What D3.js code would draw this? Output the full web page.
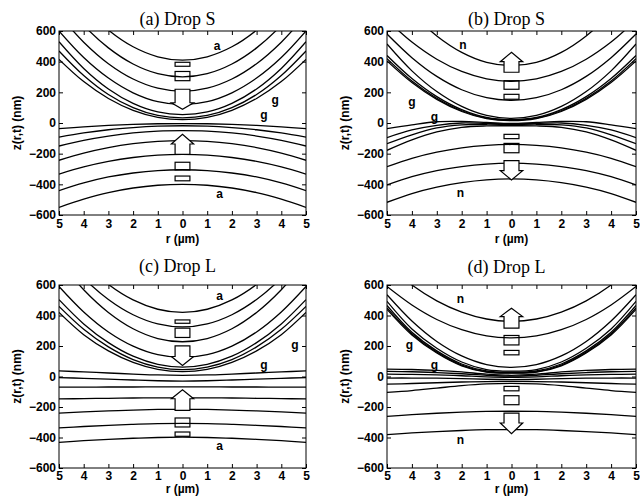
<!DOCTYPE html>
<html>
<head>
<meta charset="utf-8">
<script src="https://cdn.jsdelivr.net/npm/d3@7"></script>
<style>
  body { margin: 0; background: #fff; }
  svg { display: block; }
</style>
</head>
<body>
<svg id="fig" width="640" height="496"></svg>
<script>
// Film profiles z(r,t) in nm, sampled at r = 0..5 µm (profiles are symmetric in r).
const rSamples = [0, 1, 2, 3, 4, 5];
const rTicks = [-5, -4, -3, -2, -1, 0, 1, 2, 3, 4, 5];
const zTicks = [-600, -400, -200, 0, 200, 400, 600];

// (a) Drop S, approach
const upperA = [
  [410, 432, 497, 606, 759, 955],
  [301, 322, 385, 490, 637, 826],
  [207, 227, 287, 387, 527, 707],
  [120, 139, 197, 293, 427, 600],
  [55, 72, 128, 222, 356, 530],
  [33, 49, 100, 186, 310, 470],
  [22, 37, 83, 160, 270, 415]
];
const lowerA = [
  [-4, -5, -9, -16, -25, -37],
  [-18, -21, -30, -44, -65, -92],
  [-50, -53, -65, -85, -113, -150],
  [-115, -120, -135, -160, -196, -243],
  [-205, -210, -225, -250, -286, -333],
  [-305, -310, -326, -352, -391, -441],
  [-400, -406, -424, -454, -497, -550]
];

// (b) Drop S, separation
const upperB = [
  [375, 396, 461, 568, 718, 910],
  [272, 288, 336, 416, 528, 672],
  [148, 165, 217, 304, 426, 580],
  [30, 49, 108, 205, 340, 515],
  [22, 36, 87, 172, 290, 440],
  [18, 32, 80, 161, 274, 420],
  [15, 28, 75, 154, 264, 405]
];
const lowerB = [
  [-3, 4, 10, 8, -12, -37],
  [-6, -3, 0, -15, -45, -95],
  [-10, -8, -12, -32, -77, -135],
  [-18, -19, -28, -58, -110, -178],
  [-140, -146, -162, -190, -230, -285],
  [-262, -268, -284, -310, -350, -404],
  [-365, -371, -389, -418, -460, -517]
];

// (c) Drop L, approach
const upperC = [
  [420, 441, 502, 604, 748, 932],
  [325, 345, 405, 505, 645, 825],
  [228, 249, 313, 420, 569, 761],
  [125, 143, 199, 292, 423, 590],
  [62, 80, 133, 222, 345, 504],
  [45, 62, 111, 194, 310, 460],
  [32, 47, 93, 168, 274, 420]
];
const lowerC = [
  [8, 10, 16, 23, 30, 37],
  [-30, -28, -23, -17, -12, -7],
  [-68, -68, -69, -69, -70, -70],
  [-140, -140, -141, -143, -145, -147],
  [-215, -216, -220, -226, -232, -240],
  [-308, -309, -314, -320, -328, -337],
  [-398, -400, -405, -412, -421, -432]
];

// (d) Drop L, separation
const upperD = [
  [362, 377, 422, 496, 600, 735],
  [253, 266, 307, 374, 469, 590],
  [60, 78, 135, 230, 364, 536],
  [35, 45, 95, 185, 312, 493],
  [28, 36, 82, 168, 290, 466],
  [24, 31, 75, 160, 280, 450],
  [22, 28, 70, 154, 272, 440]
];
const lowerD = [
  [8, 15, 30, 40, 46, 48],
  [2, 8, 18, 26, 31, 33],
  [-5, -2, 5, 11, 14, 15],
  [-20, -18, -14, -11, -10, -10],
  [-32, -33, -36, -41, -46, -50],
  [-45, -49, -60, -76, -92, -104],
  [-228, -229, -234, -241, -250, -261],
  [-348, -349, -354, -361, -370, -381]
];

// Motion markers on the axis r = 0 (z levels in nm).
const markersA = [
  { kind: "bar", z: [370, 396] }, { kind: "bar", z: [276, 336] },
  { kind: "arrow", z: [220, 132, 89] },
  { kind: "arrow", z: [-204, -137, -74] },
  { kind: "bar", z: [-306, -256] }, { kind: "bar", z: [-377, -346] }
];
const markersB = [
  { kind: "arrow", z: [331, 400, 461] },
  { kind: "bar", z: [220, 276] }, { kind: "bar", z: [155, 187] },
  { kind: "bar", z: [-102, -74] }, { kind: "bar", z: [-194, -133] },
  { kind: "arrow", z: [-246, -311, -372] }
];
const markersC = [
  { kind: "bar", z: [349, 371] }, { kind: "bar", z: [256, 317] },
  { kind: "arrow", z: [201, 131, 73] },
  { kind: "arrow", z: [-222, -146, -87] },
  { kind: "bar", z: [-331, -272] }, { kind: "bar", z: [-392, -364] }
];
const markersD = [
  { kind: "arrow", z: [317, 393, 448] },
  { kind: "bar", z: [207, 269] }, { kind: "bar", z: [142, 171] },
  { kind: "bar", z: [-94, -65] }, { kind: "bar", z: [-185, -126] },
  { kind: "arrow", z: [-240, -305, -375] }
];

// Curve tags: [text, r, z]
const tagsA = [["a", 1.4, 500], ["g", 3.75, 150], ["g", 3.3, 52], ["a", 1.5, -465]];
const tagsB = [["n", -1.95, 510], ["g", -4.0, 140], ["g", -3.1, 42], ["n", -2.05, -455]];
const tagsC = [["a", 1.5, 525], ["g", 4.55, 208], ["g", 3.3, 75], ["a", 1.5, -455]];
const tagsD = [["n", -2.05, 505], ["g", -4.1, 208], ["g", -3.1, 78], ["n", -2.05, -415]];

const panels = [
  { title: "(a) Drop S", upper: upperA, lower: lowerA, markers: markersA, tags: tagsA,
    left: 59, right: 306, top: 31, bottom: 215, titleY: 25, xPad: 4, xLabelY: 242.5 },
  { title: "(b) Drop S", upper: upperB, lower: lowerB, markers: markersB, tags: tagsB,
    left: 387, right: 636, top: 31, bottom: 215, titleY: 25, xPad: 4, xLabelY: 242.5 },
  { title: "(c) Drop L", upper: upperC, lower: lowerC, markers: markersC, tags: tagsC,
    left: 59, right: 306, top: 285, bottom: 468, titleY: 272, xPad: 3, xLabelY: 493 },
  { title: "(d) Drop L", upper: upperD, lower: lowerD, markers: markersD, tags: tagsD,
    left: 387, right: 636, top: 285, bottom: 468, titleY: 273, xPad: 3, xLabelY: 493 }
];

const svg = d3.select("#fig");
const sans = "'Liberation Sans', Arial, Helvetica, sans-serif";
const serif = "'Liberation Serif', 'Times New Roman', Times, serif";
const fmtZ = v => (v < 0 ? "\u2212" + Math.abs(v) : String(v));

// mirror a half profile onto r in [-5, 5]
function fullProfile(vals) {
  const pts = [];
  for (let i = rSamples.length - 1; i > 0; i--) pts.push([-rSamples[i], vals[i]]);
  rSamples.forEach((r, i) => pts.push([r, vals[i]]));
  return pts;
}

panels.forEach((p, pi) => {
  const x = d3.scaleLinear().domain([-5, 5]).range([p.left, p.right]);
  const y = d3.scaleLinear().domain([-600, 600]).range([p.bottom, p.top]);
  const g = svg.append("g");

  const clipId = "clip" + pi;
  g.append("clipPath").attr("id", clipId)
    .append("rect")
    .attr("x", p.left).attr("y", p.top)
    .attr("width", p.right - p.left).attr("height", p.bottom - p.top);

  const line = d3.line()
    .x(d => x(d[0])).y(d => y(d[1]))
    .curve(d3.curveCatmullRom.alpha(0.5));

  const curves = g.append("g").attr("clip-path", `url(#${clipId})`);
  curves.selectAll("path")
    .data(p.upper.concat(p.lower))
    .join("path")
    .attr("d", v => line(fullProfile(v)))
    .attr("fill", "none")
    .attr("stroke", "#000")
    .attr("stroke-width", 1.3);

  // motion markers: open bars and white block arrows
  const sw = 0.3, hw = 0.45;
  const mk = g.append("g");
  p.markers.forEach(m => {
    if (m.kind === "bar") {
      mk.append("rect")
        .attr("x", x(-sw)).attr("width", x(sw) - x(-sw))
        .attr("y", y(m.z[1])).attr("height", y(m.z[0]) - y(m.z[1]))
        .attr("fill", "none").attr("stroke", "#000").attr("stroke-width", 1.2);
    } else {
      const [tail, neck, tip] = m.z;
      const pts = [[-sw, tail], [sw, tail], [sw, neck], [hw, neck], [0, tip], [-hw, neck], [-sw, neck]];
      mk.append("polygon")
        .attr("points", pts.map(d => x(d[0]) + "," + y(d[1])).join(" "))
        .attr("fill", "#fff").attr("stroke", "#000").attr("stroke-width", 1.2);
    }
  });

  // frame
  g.append("rect")
    .attr("x", p.left).attr("y", p.top)
    .attr("width", p.right - p.left).attr("height", p.bottom - p.top)
    .attr("fill", "none").attr("stroke", "#000").attr("stroke-width", 1);

  // axes with inward ticks on all four sides
  const tl = 4;
  const axB = d3.axisBottom(x).tickValues(rTicks).tickSizeInner(-tl).tickSizeOuter(0)
    .tickPadding(p.xPad).tickFormat(d => Math.abs(d));
  const axT = d3.axisTop(x).tickValues(rTicks).tickSizeInner(-tl).tickSizeOuter(0).tickFormat("");
  const axL = d3.axisLeft(y).tickValues(zTicks).tickSizeInner(-tl).tickSizeOuter(0)
    .tickPadding(3).tickFormat(fmtZ);
  const axR = d3.axisRight(y).tickValues(zTicks).tickSizeInner(-tl).tickSizeOuter(0).tickFormat("");

  [[axB, `translate(0,${p.bottom})`], [axT, `translate(0,${p.top})`],
   [axL, `translate(${p.left},0)`], [axR, `translate(${p.right},0)`]].forEach(([ax, tr]) => {
    const a = g.append("g").attr("transform", tr).call(ax);
    a.select(".domain").remove();
    a.selectAll("line").attr("stroke", "#000");
    a.selectAll("text")
      .attr("fill", "#000")
      .style("font-family", sans).style("font-weight", "bold").style("font-size", "12px");
  });

  // curve tags
  g.selectAll("text.tag").data(p.tags).join("text")
    .attr("class", "tag")
    .attr("x", d => x(d[1])).attr("y", d => y(d[2]))
    .attr("text-anchor", "middle").attr("dominant-baseline", "central")
    .style("font-family", sans).style("font-weight", "bold").style("font-size", "12px")
    .text(d => d[0]);

  // titles and axis labels
  const cx = (p.left + p.right) / 2;
  g.append("text")
    .attr("x", cx - 5).attr("y", p.titleY)
    .attr("text-anchor", "middle")
    .style("font-family", serif).style("font-size", "18px")
    .text(p.title);

  g.append("text")
    .attr("x", cx).attr("y", p.xLabelY)
    .attr("text-anchor", "middle")
    .style("font-family", sans).style("font-weight", "bold").style("font-size", "12px")
    .text("r (\u00b5m)");

  g.append("text")
    .attr("transform", `translate(${p.left - 38},${(p.top + p.bottom) / 2}) rotate(-90)`)
    .attr("text-anchor", "middle")
    .style("font-family", sans).style("font-weight", "bold").style("font-size", "12px")
    .text("z(r,t) (nm)");
});
</script>
</body>
</html>
